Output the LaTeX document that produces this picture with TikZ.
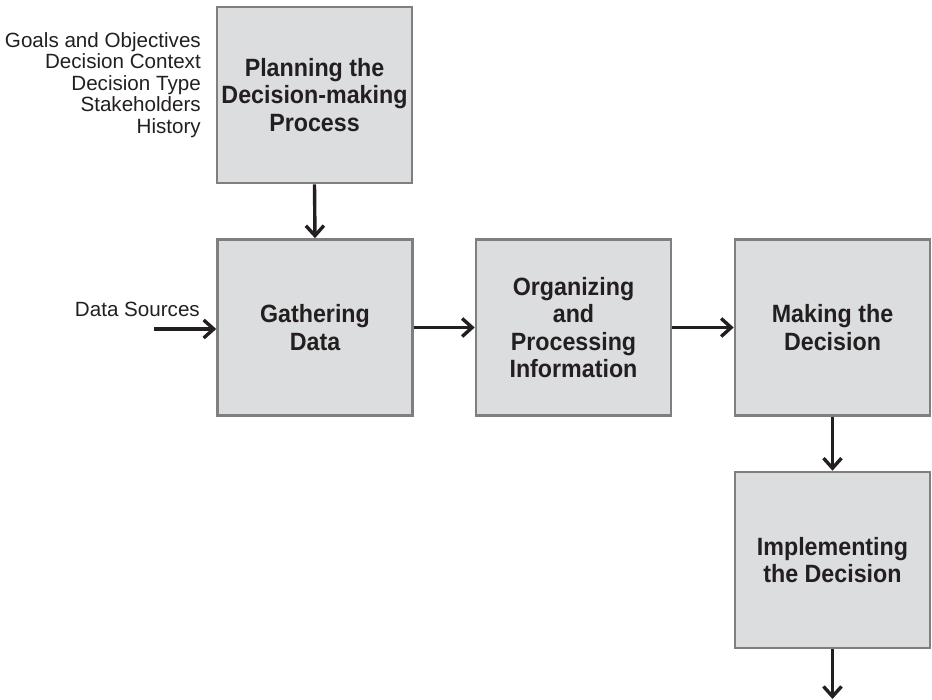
\documentclass[tikz,border=0pt]{standalone}
\usepackage{fontspec}
\setmainfont{Liberation Sans}
\newfontfamily\boxfont[FakeStretch=0.93]{Liberation Sans}
\usetikzlibrary{arrows.meta}
\definecolor{boxfill}{HTML}{DCDDDF}
\definecolor{boxline}{HTML}{7F7F80}
\definecolor{ink}{HTML}{231F20}
\tikzset{
  x=1pt, y=-1pt,
  stagebox/.style={draw=boxline, line width=2.6pt, fill=boxfill, minimum width=195pt, minimum height=176pt,
    inner sep=0pt, align=center, text=ink, font=\boxfont\fontsize{25}{27.5}\selectfont\bfseries},
  flow/.style={draw=ink, line width=3.4pt, -{Straight Barb[length=10pt,width=18pt,line width=3.4pt]}},
  sidetext/.style={inner sep=0pt, text=ink, font=\fontsize{20.6}{21.6}\selectfont}
}
\begin{document}
\begin{tikzpicture}
\useasboundingbox (0,0) rectangle (932,700);
\node[stagebox] (plan) at (314.5,95) {Planning the\\Decision-making\\Process};
\node[stagebox] (gather) at (315,327.5) {Gathering\\Data};
\node[stagebox] (organize) at (573.5,327.5) {Organizing\\and\\Processing\\Information};
\node[stagebox] (make) at (832.5,327.5) {Making the\\Decision};
\node[stagebox] (implement) at (832.5,560) {Implementing\\the Decision};
\node[sidetext, align=right, anchor=north east] (inputs) at (201,32) {Goals and Objectives\\Decision Context\\Decision Type\\Stakeholders\\History};
\node[sidetext, anchor=base east] (datasrc) at (200,317) {Data Sources};
\coordinate (dsstart) at (154,329);
\coordinate (endpt) at (832.5,699);
\draw[flow] (plan.south) -- (gather.north);
\draw[flow] (dsstart) -- (dsstart -| gather.west);
\draw[flow] (gather.east) -- (organize.west);
\draw[flow] (organize.east) -- (make.west);
\draw[flow] (make.south) -- (implement.north);
\draw[flow] (implement.south) -- (endpt);
\end{tikzpicture}
\end{document}
